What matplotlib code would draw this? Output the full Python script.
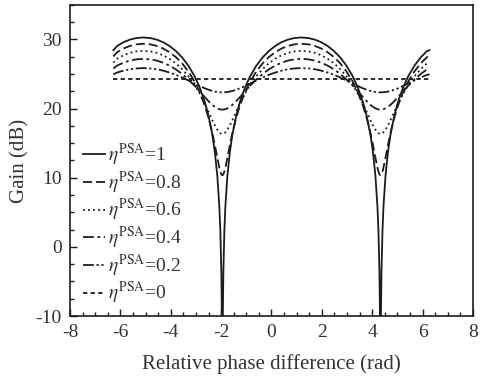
import matplotlib

matplotlib.use("Agg")
import matplotlib.pyplot as plt
from matplotlib.ticker import MultipleLocator

# values (relative phase in rad, gain in dB)
phase = [
    -6.28, -6.13, -5.88, -5.63, -5.38, -5.09,
    -4.80, -4.55, -4.30, -4.05, -3.80, -3.55, -3.30, -3.05, -2.85, -2.65,
    -2.50, -2.35, -2.25, -2.15, -2.07, -2.03, -1.99, -1.97, -1.95,
    -1.93, -1.91, -1.87, -1.83, -1.75, -1.65, -1.55, -1.40, -1.25, -1.05,
    -0.85, -0.60, -0.35, -0.10, 0.15, 0.40, 0.65, 0.90, 1.19,
    1.48, 1.73, 1.98, 2.23, 2.48, 2.73, 2.98, 3.23, 3.43, 3.63,
    3.78, 3.93, 4.03, 4.13, 4.21, 4.25, 4.29, 4.31, 4.33,
    4.35, 4.37, 4.41, 4.45, 4.53, 4.63, 4.73, 4.88, 5.03, 5.23,
    5.43, 5.68, 5.93, 6.18, 6.28,
]

gain_10 = [
    28.45, 29.06, 29.60, 29.97, 30.20, 30.29,
    30.20, 29.97, 29.60, 29.06, 28.34, 27.41, 26.21, 24.66, 23.06, 21.00,
    18.97, 16.26, 13.78, 10.28, 5.85, 2.33, -3.69, -9.67, -15.0,
    -9.67, -3.69, 2.33, 5.85, 10.28, 13.78, 16.26, 18.97, 21.00, 23.06,
    24.66, 26.21, 27.41, 28.34, 29.06, 29.60, 29.97, 30.20, 30.29,
    30.20, 29.97, 29.60, 29.06, 28.34, 27.41, 26.21, 24.66, 23.06, 21.00,
    18.97, 16.26, 13.78, 10.28, 5.85, 2.33, -3.69, -9.67, -15.0,
    -9.67, -3.69, 2.33, 5.85, 10.28, 13.78, 16.26, 18.97, 21.00, 23.06,
    24.66, 26.21, 27.41, 28.34, 28.45,
]

gain_08 = [
    27.55, 28.16, 28.69, 29.06, 29.29, 29.38,
    29.29, 29.06, 28.69, 28.16, 27.46, 26.55, 25.38, 23.89, 22.38, 20.47,
    18.69, 16.50, 14.77, 12.88, 11.46, 10.89, 10.51, 10.41, 10.37,
    10.41, 10.51, 10.89, 11.46, 12.88, 14.77, 16.50, 18.69, 20.47, 22.38,
    23.89, 25.38, 26.55, 27.46, 28.16, 28.69, 29.06, 29.29, 29.38,
    29.29, 29.06, 28.69, 28.16, 27.46, 26.55, 25.38, 23.89, 22.38, 20.47,
    18.69, 16.50, 14.77, 12.88, 11.46, 10.89, 10.51, 10.41, 10.37,
    10.41, 10.51, 10.89, 11.46, 12.88, 14.77, 16.50, 18.69, 20.47, 22.38,
    23.89, 25.38, 26.55, 27.46, 27.55,
]

gain_06 = [
    26.65, 27.21, 27.71, 28.06, 28.27, 28.36,
    28.27, 28.06, 27.71, 27.21, 26.56, 25.72, 24.68, 23.39, 22.16, 20.74,
    19.56, 18.35, 17.59, 16.95, 16.57, 16.45, 16.37, 16.35, 16.35,
    16.35, 16.37, 16.45, 16.57, 16.95, 17.59, 18.35, 19.56, 20.74, 22.16,
    23.39, 24.68, 25.72, 26.56, 27.21, 27.71, 28.06, 28.27, 28.36,
    28.27, 28.06, 27.71, 27.21, 26.56, 25.72, 24.68, 23.39, 22.16, 20.74,
    19.56, 18.35, 17.59, 16.95, 16.57, 16.45, 16.37, 16.35, 16.35,
    16.35, 16.37, 16.45, 16.57, 16.95, 17.59, 18.35, 19.56, 20.74, 22.16,
    23.39, 24.68, 25.72, 26.56, 26.65,
]

gain_04 = [
    25.80, 26.22, 26.64, 26.94, 27.12, 27.20,
    27.12, 26.94, 26.64, 26.22, 25.68, 25.01, 24.21, 23.30, 22.50, 21.67,
    21.08, 20.55, 20.26, 20.04, 19.92, 19.89, 19.86, 19.86, 19.86,
    19.86, 19.86, 19.89, 19.92, 20.04, 20.26, 20.55, 21.08, 21.67, 22.50,
    23.30, 24.21, 25.01, 25.68, 26.22, 26.64, 26.94, 27.12, 27.20,
    27.12, 26.94, 26.64, 26.22, 25.68, 25.01, 24.21, 23.30, 22.50, 21.67,
    21.08, 20.55, 20.26, 20.04, 19.92, 19.89, 19.86, 19.86, 19.86,
    19.86, 19.86, 19.89, 19.92, 20.04, 20.26, 20.55, 21.08, 21.67, 22.50,
    23.30, 24.21, 25.01, 25.68, 25.80,
]

gain_02 = [
    24.95, 25.22, 25.49, 25.69, 25.81, 25.86,
    25.81, 25.69, 25.49, 25.22, 24.89, 24.50, 24.07, 23.62, 23.27, 22.94,
    22.73, 22.56, 22.47, 22.40, 22.37, 22.36, 22.35, 22.35, 22.35,
    22.35, 22.35, 22.36, 22.37, 22.40, 22.47, 22.56, 22.73, 22.94, 23.27,
    23.62, 24.07, 24.50, 24.89, 25.22, 25.49, 25.69, 25.81, 25.86,
    25.81, 25.69, 25.49, 25.22, 24.89, 24.50, 24.07, 23.62, 23.27, 22.94,
    22.73, 22.56, 22.47, 22.40, 22.37, 22.36, 22.35, 22.35, 22.35,
    22.35, 22.35, 22.36, 22.37, 22.40, 22.47, 22.56, 22.73, 22.94, 23.27,
    23.62, 24.07, 24.50, 24.89, 24.95,
]

phase_00 = [-6.28, 6.28]
gain_00 = [24.3, 24.3]

eta_labels = ["1", "0.8", "0.6", "0.4", "0.2", "0"]

plt.rcParams["font.family"] = "Liberation Serif"
plt.rcParams["mathtext.fontset"] = "stix"
plt.rcParams["axes.unicode_minus"] = False

ink = "#1c1c1c"
text_col = "#333333"

fig = plt.figure(figsize=(4.83, 3.78), dpi=100)
ax = fig.add_axes([0.145, 0.164, 0.834, 0.823])

curves = [
    (phase, gain_10, "-"),
    (phase, gain_08, (0, (5, 2.2))),
    (phase, gain_06, (0, (1, 1.8))),
    (phase, gain_04, (0, (6, 2, 1.5, 2))),
    (phase, gain_02, (0, (6, 1.5, 1.2, 1.5, 1.2, 1.5))),
    (phase_00, gain_00, (0, (2.4, 1.8))),
]
for (xs, ys, ls), lab in zip(curves, eta_labels):
    ax.plot(xs, ys, color=ink, lw=1.3, ls=ls, label=r"$\eta^{\mathrm{PSA}}$=" + lab)

ax.set_xlim(-8, 8)
ax.set_ylim(-10, 35)
ax.xaxis.set_major_locator(MultipleLocator(2))
ax.xaxis.set_minor_locator(MultipleLocator(0.5))
ax.yaxis.set_major_locator(MultipleLocator(10))
ax.yaxis.set_minor_locator(MultipleLocator(2.5))
ax.tick_params(which="both", direction="in", colors=ink, labelcolor=text_col, labelsize=14, width=1.0)
ax.tick_params(which="major", length=5, pad=6)
ax.tick_params(which="minor", length=3)
for sp in ax.spines.values():
    sp.set_linewidth(1.2)
    sp.set_color(ink)

ax.set_xlabel("Relative phase difference (rad)", fontsize=15, color=text_col, labelpad=9)
ax.set_ylabel("Gain (dB)", fontsize=15, color=text_col, labelpad=4)

leg = ax.legend(
    loc="upper left",
    bbox_to_anchor=(0.0, 0.60),
    frameon=False,
    fontsize=14,
    handlelength=1.15,
    handletextpad=0.15,
    labelspacing=0.08,
    borderaxespad=0.25,
)
for t in leg.get_texts():
    t.set_color(text_col)

fig.savefig("out.png", dpi=100)
